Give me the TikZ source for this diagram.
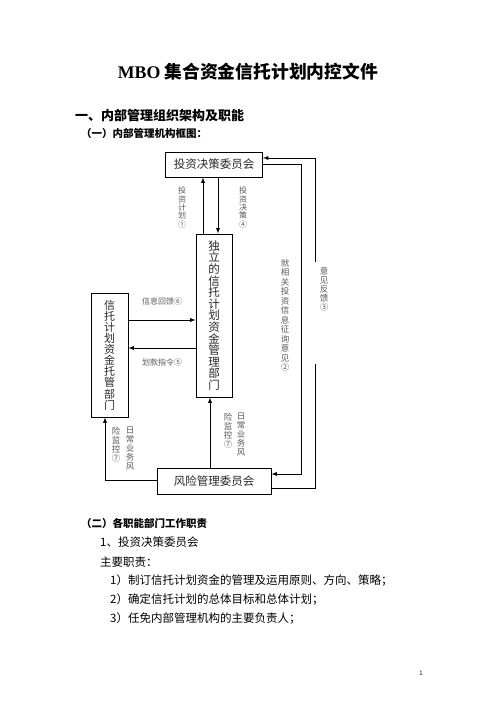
\documentclass[tikz,border=0pt]{standalone}
\usepackage{fontspec}
\setmainfont{Noto Sans CJK SC}
\newfontfamily\lat{Liberation Serif}
\usetikzlibrary{positioning}
\colorlet{lbx}{black!65}

\begin{document}
\begin{tikzpicture}[x=1pt,y=-1pt,
        txt/.style={anchor=west,inner sep=0pt},
        box/.style={draw,line width=0.9pt,inner sep=0pt,align=center,text=black!85},
        lbl/.style={inner sep=0pt,align=center,text=lbx,font=\fontsize{8.5}{9}\selectfont},
        arr/.style={line width=0.9pt,-latex}
    ]
    \useasboundingbox (0,0) rectangle (496,702);
    \node[font=\bfseries\fontsize{17.8}{20}\selectfont] (title) at (248,72) {{\lat MBO} 集合资金信托计划内控文件};
    \node[txt,font=\bfseries\fontsize{13}{15}\selectfont] (h1) at (75,116) {一、内部管理组织架构及职能};
    \node[txt,font=\bfseries\fontsize{10.5}{12}\selectfont] (h2) at (81,133) {（一）内部管理机构框图：};

    \node[box,minimum width=97pt,minimum height=25pt,font=\fontsize{11.5}{12.5}\selectfont] (inv) at (214,164.5) {投资决策委员会};
    \node[box,minimum width=36pt,minimum height=163pt,font=\fontsize{11.5}{11.6}\selectfont] (mgr) at (214,315.5)
        {独\\立\\的\\信\\托\\计\\划\\资\\金\\管\\理\\部\\门};
    \node[box,minimum width=37pt,minimum height=124pt,font=\fontsize{11}{11.1}\selectfont] (cus) at (109.5,355)
        {信\\托\\计\\划\\资\\金\\托\\管\\部\\门};
    \node[box,minimum width=114pt,minimum height=26pt,font=\fontsize{11.5}{12.5}\selectfont] (rsk) at (214,481) {风险管理委员会};

    \coordinate (y6) at (0,320);
    \coordinate (y5) at (0,348);
    \coordinate (rin) at (301,0);
    \coordinate (gapt) at (315,262);
    \coordinate (gapb) at (315,364);

    \draw[arr] ([xshift=-11pt]mgr.north) -- ([xshift=-11pt]inv.south);
    \draw[arr] ([xshift=4pt]inv.south) -- ([xshift=4pt]mgr.north);
    \draw[arr] (cus.east |- y6) -- (mgr.west |- y6);
    \draw[arr] (mgr.west |- y5) -- (cus.east |- y5);
    \draw[arr] ([xshift=-4pt]rsk.north) -- ([xshift=-4pt]mgr.south);
    \draw[arr] ([yshift=1pt]rsk.west) -| ([xshift=-4.5pt]cus.south);
    \draw[arr] (inv.east) -- (inv.east -| rin) |- ([yshift=7pt]rsk.east);
    \draw[line width=0.9pt] ([yshift=-7pt]rsk.east) -| (gapb);
    \draw[arr] (gapt) |- ([yshift=6.5pt]inv.east);

    \node[lbl,font=\fontsize{8}{8.3}\selectfont] (l1) at (182,207.5) {投\\资\\计\\划\\①};
    \node[lbl,font=\fontsize{8}{8.3}\selectfont] (l4) at (243,207.5) {投\\资\\决\\策\\④};
    \node[lbl,font=\fontsize{8}{9}\selectfont] (l6) at (162,301) {信息回馈⑥};
    \node[lbl,font=\fontsize{8}{9}\selectfont] (l5) at (162,362) {划款指令⑤};
    \node[lbl,font=\fontsize{8.5}{9.5}\selectfont] (l2) at (285,315.5) {就\\相\\关\\投\\资\\信\\息\\征\\询\\意\\见\\②};
    \node[lbl] (l3) at (324,289) {意\\见\\反\\馈\\③};
    \node[lbl,anchor=north] (l7a) at (241,413) {日\\常\\业\\务\\风};
    \node[lbl,anchor=north] (l7b) at (228,413) {险\\监\\控\\⑦};
    \node[lbl,anchor=north] (l7c) at (130,427) {日\\常\\业\\务\\风};
    \node[lbl,anchor=north] (l7d) at (116,427) {险\\监\\控\\⑦};

    \node[txt,font=\bfseries\fontsize{10.5}{12}\selectfont] (h3) at (81,523) {（二）各职能部门工作职责};
    \node[txt,font=\fontsize{11.5}{13}\selectfont] (b1) at (100,542) {1、投资决策委员会};
    \node[txt,font=\fontsize{11.5}{13}\selectfont] (b2) at (100,562) {主要职责：};
    \node[txt,font=\fontsize{11.5}{13}\selectfont] (b3) at (110,580) {1）制订信托计划资金的管理及运用原则、方向、策略；};
    \node[txt,font=\fontsize{11.5}{13}\selectfont] (b4) at (110,599) {2）确定信托计划的总体目标和总体计划；};
    \node[txt,font=\fontsize{11.5}{13}\selectfont] (b5) at (110,618) {3）任免内部管理机构的主要负责人；};
    \node[font=\fontsize{6}{7}\selectfont] (pg) at (421,673) {1};
\end{tikzpicture}
\end{document}
